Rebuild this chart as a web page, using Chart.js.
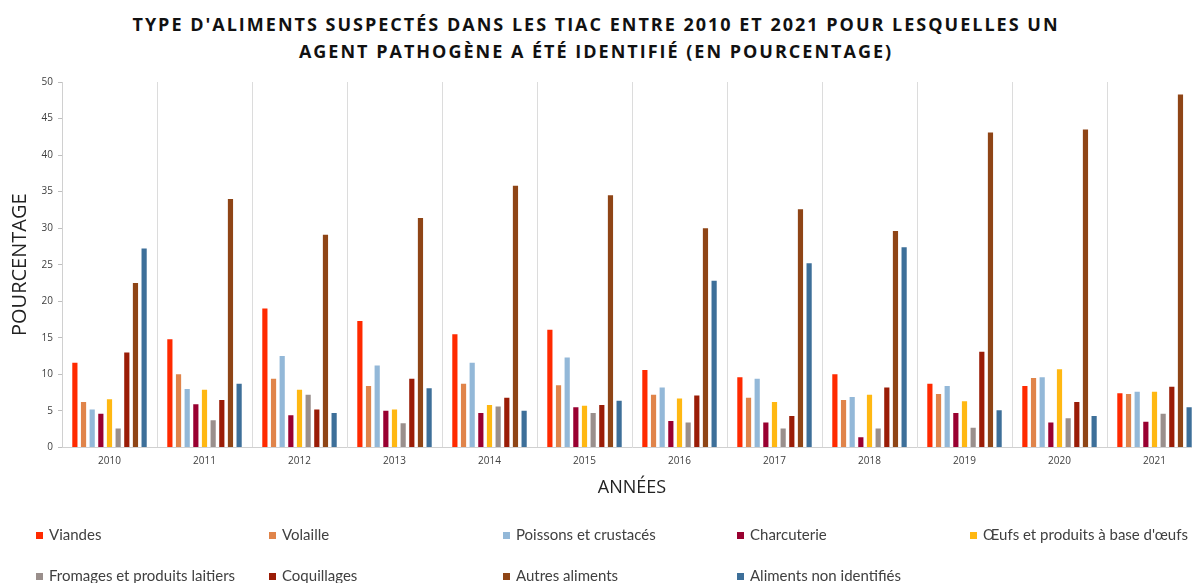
<!DOCTYPE html>
<html>
<head>
<meta charset="utf-8">
<script src="https://cdn.jsdelivr.net/npm/chart.js@4/dist/chart.umd.min.js"></script>
<style>
  html, body { margin: 0; padding: 0; background: #fff; }
  #page { position: relative; width: 1192px; height: 583px; overflow: hidden; }
  #title {
    position: absolute; left: 0; top: 11px; width: 1192px; text-align: center;
    font-family: "Open Sans", sans-serif; font-weight: bold; font-size: 18px;
    letter-spacing: 2px; line-height: 27px; color: #111;
  }
  #chartBox { position: absolute; left: 0; top: 60px; width: 1215px; height: 443px; }
  #legend { position: absolute; left: 0; top: 0; width: 1192px; height: 583px; pointer-events: none; }
  .item { position: absolute; font-family: Lato, sans-serif; font-size: 15px; color: #404040; white-space: nowrap; }
  .item span.box { display: inline-block; width: 7px; height: 7px; margin-right: 6px; vertical-align: 1px; }
</style>
</head>
<body>
<div id="page">
  <div id="title">TYPE D'ALIMENTS SUSPECTÉS DANS LES TIAC ENTRE 2010 ET 2021 POUR LESQUELLES UN<br>AGENT PATHOGÈNE A ÉTÉ IDENTIFIÉ (EN POURCENTAGE)</div>
  <div id="chartBox"><canvas id="myChart" width="1215" height="443"></canvas></div>
  <div id="legend"></div>
</div>
<script>
// data
const years = ["2010", "2011", "2012", "2013", "2014", "2015", "2016", "2017", "2018", "2019", "2020", "2021"];
const viandes = [11.6, 14.8, 19.0, 17.3, 15.5, 16.1, 10.6, 9.6, 10.0, 8.7, 8.4, 7.4];
const volaille = [6.2, 10.0, 9.4, 8.4, 8.7, 8.5, 7.2, 6.8, 6.5, 7.3, 9.5, 7.3];
const poissons = [5.2, 8.0, 12.5, 11.2, 11.6, 12.3, 8.2, 9.4, 6.9, 8.4, 9.6, 7.6];
const charcuterie = [4.6, 5.9, 4.4, 5.0, 4.7, 5.5, 3.6, 3.4, 1.4, 4.7, 3.4, 3.5];
const oeufs = [6.6, 7.9, 7.9, 5.2, 5.8, 5.7, 6.7, 6.2, 7.2, 6.3, 10.7, 7.6];
const fromages = [2.6, 3.7, 7.2, 3.3, 5.6, 4.7, 3.4, 2.6, 2.6, 2.7, 4.0, 4.6];
const coquillages = [13.0, 6.5, 5.2, 9.4, 6.8, 5.8, 7.1, 4.3, 8.2, 13.1, 6.2, 8.3];
const autres = [22.5, 34.0, 29.1, 31.4, 35.8, 34.5, 30.0, 32.6, 29.6, 43.1, 43.5, 48.3];
const nonIdentifies = [27.2, 8.7, 4.7, 8.1, 5.0, 6.4, 22.8, 25.2, 27.4, 5.1, 4.3, 5.5];

const seriesNames = ["Viandes", "Volaille", "Poissons et crustacés", "Charcuterie", "Œufs et produits à base d'œufs",
    "Fromages et produits laitiers", "Coquillages", "Autres aliments", "Aliments non identifiés"];
const seriesValues = [viandes, volaille, poissons, charcuterie, oeufs, fromages, coquillages, autres, nonIdentifies];
const seriesColors = ["#ff2a00", "#e0844a", "#93b8d8", "#990030", "#ffb812", "#9a8f8c", "#9a1c06", "#8f4516", "#3d6f99"];

const datasets = seriesNames.map(function(name, i) {
    return {
        label: name,
        data: seriesValues[i],
        backgroundColor: seriesColors[i],
        categoryPercentage: 0.82,
        barPercentage: 0.6
    };
});

const ctx = document.getElementById("myChart").getContext("2d");
const chart = new Chart(ctx, {
    type: "bar",
    data: { labels: years, datasets: datasets },
    options: {
        responsive: false,
        animation: false,
        layout: { padding: { top: 22, right: 13, left: 8, bottom: 0 } },
        plugins: { legend: { display: false }, tooltip: { enabled: false } },
        scales: {
            x: {
                grid: { display: true, offset: true, color: "#dcdcdc", drawTicks: false },
                border: { display: true, color: "#d0d0d0" },
                ticks: { color: "#404040", font: { family: "Open Sans", size: 10 }, padding: 8 },
                title: { display: true, text: "ANNÉES", color: "#222", font: { family: "Open Sans", size: 18 }, padding: { top: 2 } }
            },
            y: {
                min: 0, max: 50,
                afterFit: function(scale) { scale.width = 54; },
                grid: { drawOnChartArea: false, drawTicks: true, tickLength: 4, color: "#bfbfbf" },
                border: { display: true, color: "#d0d0d0" },
                ticks: { stepSize: 5, color: "#404040", font: { family: "Open Sans", size: 10 }, padding: 5 },
                title: { display: true, text: "POURCENTAGE", color: "#222", font: { family: "Open Sans", size: 20 }, padding: 0 }
            }
        }
    }
});

// legend grid like the original
const legend = document.getElementById("legend");
const colX = [36, 269, 503, 737, 970];
const rowY = [525, 566];
seriesNames.forEach(function(name, i) {
    const div = document.createElement("div");
    div.className = "item";
    div.style.left = colX[i % 5] + "px";
    div.style.top = rowY[Math.floor(i / 5)] + "px";
    div.innerHTML = '<span class="box" style="background:' + seriesColors[i] + '"></span>' + name;
    legend.appendChild(div);
});
</script>
</body>
</html>
